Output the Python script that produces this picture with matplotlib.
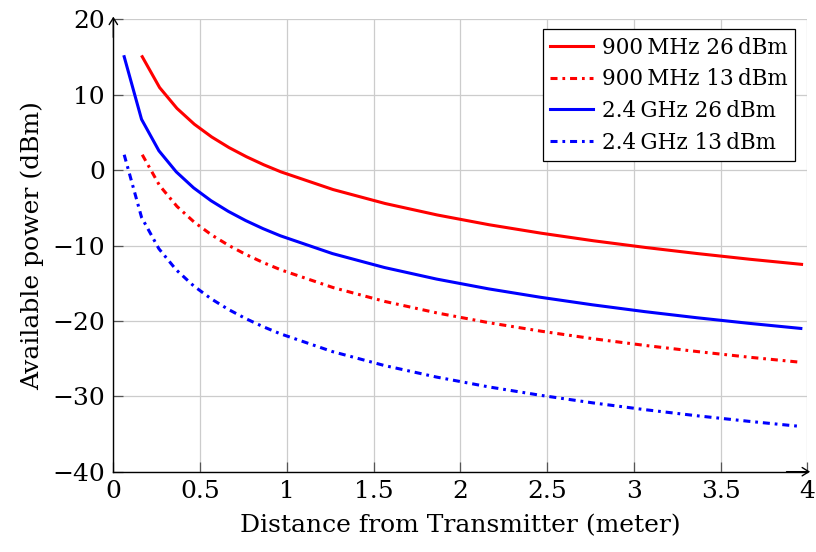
import numpy as np
import matplotlib
matplotlib.use("Agg")
import matplotlib.pyplot as plt

plt.rcParams["font.family"] = ["DejaVu Serif"]
plt.rcParams["mathtext.fontset"] = "dejavuserif"

# distances (m)
dist_24 = [0.0625, 0.1625, 0.2625, 0.3625, 0.4625, 0.5625, 0.6625, 0.7625, 0.8625, 0.9625,
           1.2625, 1.5625, 1.8625, 2.1625, 2.4625, 2.7625, 3.0625, 3.3625, 3.6625, 3.9625]
dist_900 = [0.1666, 0.2666, 0.3666, 0.4666, 0.5666, 0.6666, 0.7666, 0.8666, 0.9666,
            1.2666, 1.5666, 1.8666, 2.1666, 2.4666, 2.7666, 3.0666, 3.3666, 3.6666, 3.9666]

# available power (dBm)
p900_26 = [15.04, 10.95, 8.19, 6.09, 4.40, 2.99, 1.78, 0.71, -0.24,
           -2.58, -4.43, -5.95, -7.25, -8.37, -9.37, -10.26, -11.07, -11.82, -12.50]
p900_13 = [2.04, -2.05, -4.81, -6.91, -8.60, -10.01, -11.22, -12.29, -13.24,
           -15.58, -17.43, -18.95, -20.25, -21.37, -22.37, -23.26, -24.07, -24.82, -25.50]
p24_26 = [15.04, 6.74, 2.57, -0.23, -2.35, -4.05, -5.47, -6.69, -7.76, -8.71,
          -11.07, -12.92, -14.45, -15.75, -16.87, -17.87, -18.77, -19.58, -20.32, -21.00]
p24_13 = [2.04, -6.26, -10.43, -13.23, -15.35, -17.05, -18.47, -19.69, -20.76, -21.71,
          -24.07, -25.92, -27.45, -28.75, -29.87, -30.87, -31.77, -32.58, -33.32, -34.00]

xticks = [0, 0.5, 1, 1.5, 2, 2.5, 3, 3.5, 4]
xticklabels = ["0", "0.5", "1", "1.5", "2", "2.5", "3", "3.5", "4"]
yticks = [-40, -30, -20, -10, 0, 10, 20]

dashdot = (0, (2.3, 1.6, 0.9, 1.6))

fig = plt.figure(figsize=(8.16, 5.52), dpi=100)
ax = fig.add_axes([0.1389, 0.1455, 0.8505, 0.8195])

ax.plot(dist_900, p900_26, color="#ff0000", lw=2.2, label="900\u2009MHz 26\u2009dBm")
ax.plot(dist_900, p900_13, color="#ff0000", lw=2.2, ls=dashdot, label="900\u2009MHz 13\u2009dBm")
ax.plot(dist_24, p24_26, color="#0000ff", lw=2.2, label="2.4\u2009GHz 26\u2009dBm")
ax.plot(dist_24, p24_13, color="#0000ff", lw=2.2, ls=dashdot, label="2.4\u2009GHz 13\u2009dBm")

ax.set_xlim(0, 4)
ax.set_ylim(-40, 20)
ax.set_xticks(xticks)
ax.set_xticklabels(xticklabels)
ax.set_yticks(yticks)
ax.grid(True, color="#cccccc", lw=0.9)
ax.set_axisbelow(True)

for s in ["top", "right"]:
    ax.spines[s].set_visible(False)
for s in ["left", "bottom"]:
    ax.spines[s].set_linewidth(1.0)
ax.tick_params(direction="in", length=7, width=0.9, color="#555555",
               labelsize=18, pad=6)

# pgfplots style arrow heads on the axis lines
ax.annotate("", xy=(1.004, 0), xytext=(0.97, 0), xycoords="axes fraction",
            arrowprops=dict(arrowstyle="->,head_length=0.4,head_width=0.25",
                            lw=1.0, color="k", shrinkA=0, shrinkB=0, mutation_scale=12))
ax.annotate("", xy=(0, 1.006), xytext=(0, 0.96), xycoords="axes fraction",
            arrowprops=dict(arrowstyle="->,head_length=0.4,head_width=0.25",
                            lw=1.0, color="k", shrinkA=0, shrinkB=0, mutation_scale=12))

ax.set_xlabel("Distance from Transmitter (meter)", fontsize=18, labelpad=8)
ax.set_ylabel("Available power (dBm)", fontsize=18, labelpad=6)

leg = ax.legend(loc="upper right", fontsize=15.5, frameon=True, fancybox=False,
                edgecolor="black", framealpha=1, handlelength=2.0,
                handletextpad=0.4, borderpad=0.35, labelspacing=0.45,
                borderaxespad=0, bbox_to_anchor=(0.9827, 0.9786))
leg.get_frame().set_linewidth(0.9)

plt.savefig("out.png", dpi=100)
plt.close()
